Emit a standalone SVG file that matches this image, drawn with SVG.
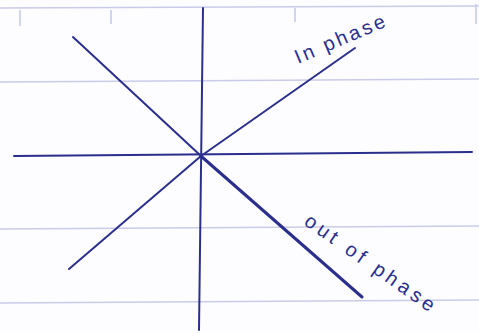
<svg xmlns="http://www.w3.org/2000/svg" width="479" height="333" viewBox="0 0 479 333">
<style>
.rule{stroke:#c9cbe9;stroke-width:1.6;fill:none}
.ink{stroke:#2b2f8c;stroke-width:2;fill:none;stroke-linecap:round;stroke-linejoin:round}
.lbl{font-family:"Liberation Sans",Arial,sans-serif;font-size:20px;fill:#2b2f8c}
</style>
<rect width="479" height="333" fill="#fdfdff"/>
<g id="paper">
<line class="rule" x1="0" y1="8" x2="479" y2="6"/>
<line class="rule" x1="0" y1="82" x2="479" y2="79"/>
<line class="rule" x1="0" y1="229" x2="479" y2="226"/>
<line class="rule" x1="0" y1="303" x2="479" y2="300"/>
<line class="rule" x1="20" y1="10" x2="20" y2="26"/>
<line class="rule" x1="111" y1="10" x2="111" y2="24"/>
<line class="rule" x1="295" y1="8" x2="295" y2="22"/>
<line class="rule" x1="476" y1="4" x2="476" y2="24"/>
</g>
<g id="connectors">
<line id="y-axis" class="ink" x1="203" y1="8" x2="199" y2="330"/>
<line id="x-axis" class="ink" x1="14" y1="156" x2="472" y2="152"/>
<line id="nw-line" class="ink" x1="73" y1="37" x2="201" y2="156"/>
<polyline id="in-phase-line" class="ink" points="69,269 201,156 355,48"/>
<line id="out-of-phase-line" class="ink" style="stroke-width:3" x1="202" y1="157" x2="362" y2="297"/>
</g>
<g id="label-in-phase">
<text class="lbl" transform="translate(298,64) rotate(-23)" letter-spacing="2.8">In phase</text>
</g>
<g id="label-out-of-phase">
<text class="lbl" transform="translate(303,224) rotate(35)" letter-spacing="4">out of phase</text>
</g>
</svg>
